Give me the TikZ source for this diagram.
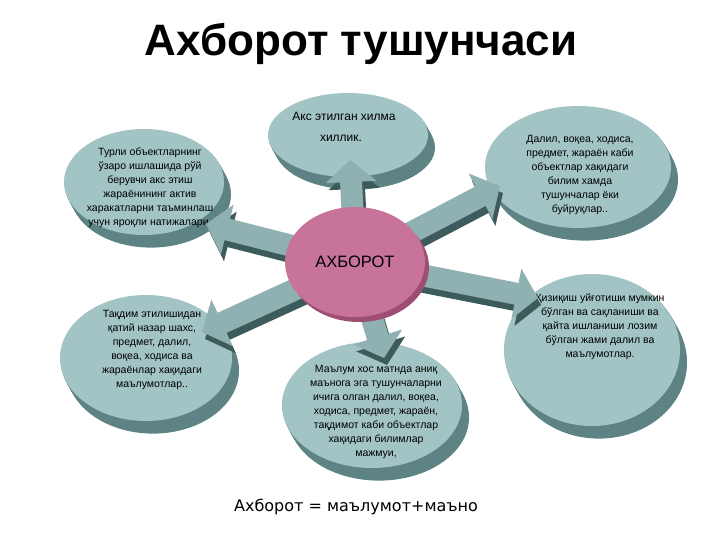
\documentclass[tikz,border=0pt]{standalone}
\usepackage{fontspec}
\setmainfont{Liberation Sans}
\newfontfamily\eqfont{DejaVu Sans}
\usetikzlibrary{shapes.geometric,arrows.meta}
\definecolor{discTop}{HTML}{A2C4C4}
\definecolor{discSide}{HTML}{5E8384}
\definecolor{arrTop}{HTML}{8FB1B2}
\definecolor{arrSide}{HTML}{3E5B5C}
\definecolor{hubPink}{HTML}{C8739A}
\definecolor{hubSide}{HTML}{9C4F72}
\tikzset{
  disc/.style={ellipse, fill=discTop, inner sep=0pt},
  disctext/.style={align=center, inner sep=0pt, font=\fontsize{10.5}{14}\selectfont},
  discside/.style={fill=discSide},
  blk/.style={line width=22pt, draw=arrTop, -{Triangle[length=22pt,width=50pt]}},
  blkside/.style={line width=22pt, draw=arrSide, -{Triangle[length=22pt,width=50pt]},
    transform canvas={shift={(3pt,-7pt)}}},
}
% name, x, y, rx, ry, text dx, text dy, text
\newcommand{\mydisc}[8]{%
  \foreach \k in {1,...,14}{\fill[discside] (#2+0.5*\k,#3+0.9*\k) ellipse ({#4} and {#5});}
  \node[disc, minimum width=2*#4, minimum height=2*#5] (#1) at (#2,#3) {};
  \node[disctext] (#1txt) at (#2+#6,#3+#7) {#8};}
\newcommand{\bigtxt}{\fontsize{12}{14}\selectfont}
\begin{document}
\begin{tikzpicture}[x=1pt,y=-1pt]
\useasboundingbox (0,0) rectangle (720,540);
\fill[white] (0,0) rectangle (720,540);
\node[font=\fontsize{44}{46}\selectfont\bfseries] (title) at (361,44) {Ахборот тушунчаси};
% discs
\mydisc{t}{348}{135}{80}{42}{-4}{-8}{\bigtxt Акс этилган хилма\\[7pt]\bigtxt\hspace*{-6pt}хиллик.}
\mydisc{tl}{144}{182}{80}{53}{6}{6}{Турли объектларнинг\\ ўзаро ишлашида рўй\\ берувчи акс этиш\\ жараёнининг актив\\ харакатларни таъминлаш\\ учун яроқли натижалари.}
\mydisc{tr}{578}{167}{93}{61}{2}{8}{Далил, воқеа, ходиса,\\ предмет, жараён каби\\ объектлар хақидаги\\ билим хамда\\ тушунчалар ёки\\ буйруқлар..}
\mydisc{bl}{146}{358}{86}{63}{6}{-8}{Тақдим этилишидан\\ қатий назар шахс,\\ предмет, далил,\\ воқеа, ходиса ва\\ жараёнлар хақидаги\\ маълумотлар..}
\mydisc{r}{592}{350}{88}{76}{8}{-23}{Қизиқиш уйғотиши мумкин\\ бўлган ва сақланиши ва\\ қайта ишланиши лозим\\ бўлган жами далил ва\\ маълумотлар.}
\mydisc{b}{372}{405}{90}{63}{4}{7}{Маълум хос матнда аниқ\\ маънога эга тушунчаларни\\ ичига олган далил, воқеа,\\ ходиса, предмет, жараён,\\ тақдимот каби объектлар\\ хақидаги билимлар\\ мажмуи,}
% arrow tips
\coordinate (c) at (355,262);
\coordinate (pt) at (350,160);
\coordinate (ptl) at (206,224);
\coordinate (ptr) at (500,186);
\coordinate (pr) at (538,298);
\coordinate (pbl) at (202,332);
\coordinate (pb) at (384,358);
\foreach \p in {pt,ptl,ptr,pr,pbl,pb}{\draw[blkside] (c) -- (\p);}
\foreach \p in {pt,ptl,ptr,pr,pbl,pb}{\draw[blk] (c) -- (\p);}
% hub
\fill[hubSide] (359,267) ellipse (70 and 55);
\node[ellipse, fill=hubPink, minimum width=140, minimum height=110, inner sep=0pt,
  font=\fontsize{16.5}{18}\selectfont] (hub) at (c) {АХБОРОТ};
\node[font=\eqfont\fontsize{16}{18}\selectfont] (eq) at (356,507) {Ахборот = маълумот+маъно};
\end{tikzpicture}
\end{document}
